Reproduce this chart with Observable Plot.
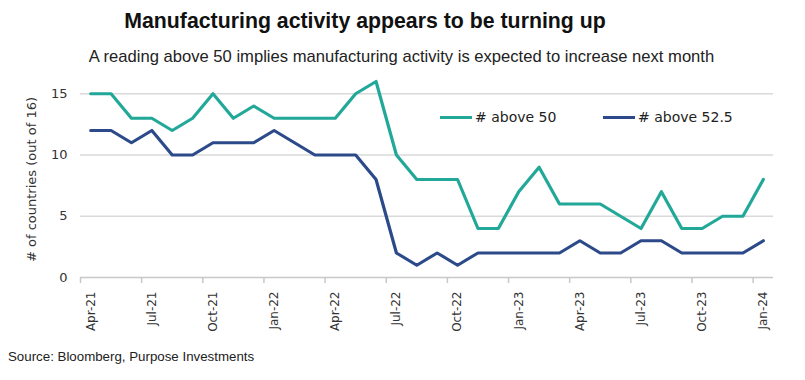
<!DOCTYPE html>
<html><head><meta charset="utf-8">
<script src="https://cdn.jsdelivr.net/npm/d3@7"></script>
<script src="https://cdn.jsdelivr.net/npm/@observablehq/plot@0.6"></script>
<style>
body{margin:0;background:#fff;width:805px;height:380px;position:relative;overflow:hidden;font-family:"DejaVu Sans",sans-serif;color:#222}
#title{position:absolute;left:0;width:730px;top:9px;text-align:center;font-family:"Liberation Sans",Arial,sans-serif;font-weight:bold;font-size:21.3px;color:#111;white-space:nowrap}
#subtitle{position:absolute;left:0;width:803px;top:47px;text-align:center;font-family:"Liberation Sans",Arial,sans-serif;font-size:16.6px;color:#222;white-space:nowrap}
#chart{position:absolute;left:0;top:72px}
#source{position:absolute;left:8px;top:349px;font-family:"Liberation Sans",Arial,sans-serif;font-size:13.3px;color:#222;white-space:nowrap}
.leg{position:absolute;top:109px;font-size:14px;color:#222;white-space:nowrap;display:flex;align-items:center}
.leg span.sw{display:inline-block;width:32px;height:3px;margin-right:3px}
</style>
</head><body>
<div id="title">Manufacturing activity appears to be turning up</div>
<div id="subtitle">A reading above 50 implies manufacturing activity is expected to increase next month</div>
<div id="chart"></div>
<div class="leg" style="left:440px"><span class="sw" style="background:#22A898"></span># above 50</div>
<div class="leg" style="left:603px"><span class="sw" style="background:#2C4A8A"></span># above 52.5</div>
<div id="source">Source: Bloomberg, Purpose Investments</div>
<script>
const months = ["Apr-21","May-21","Jun-21","Jul-21","Aug-21","Sep-21","Oct-21","Nov-21","Dec-21",
  "Jan-22","Feb-22","Mar-22","Apr-22","May-22","Jun-22","Jul-22","Aug-22","Sep-22","Oct-22","Nov-22","Dec-22",
  "Jan-23","Feb-23","Mar-23","Apr-23","May-23","Jun-23","Jul-23","Aug-23","Sep-23","Oct-23","Nov-23","Dec-23",
  "Jan-24"];
const above50 = [15,15,13,13,12,13,15,13,14,13,13,13,13,15,16,10,8,8,8,4,4,7,9,6,6,6,5,4,7,4,4,5,5,8];
const above525 = [12,12,11,12,10,10,11,11,11,12,11,10,10,10,8,2,1,2,1,2,2,2,2,2,3,2,2,3,3,2,2,2,2,3];
const yTicks = [0,5,10,15];
const labelIdx = months.map((m,i)=>i).filter(i=>i%3===0);
const boundaryIdx = labelIdx.map(i=>i-0.5);
const teal = "#22A898", navy = "#2C4A8A";

const chart = Plot.plot({
  width: 805, height: 275,
  marginLeft: 80, marginRight: 32, marginTop: 9, marginBottom: 70,
  style: {fontFamily: "DejaVu Sans", fontSize: "12px", color: "#333", background: "transparent"},
  x: {domain: [-0.5, months.length - 0.5]},
  y: {domain: [0, 16]},
  marks: [
    Plot.ruleY(yTicks.filter(d => d > 0), {stroke: "#d9d9d9", strokeWidth: 1.5}),
    Plot.ruleY([0], {stroke: "#c8c8c8", strokeWidth: 1.5}),
    Plot.axisY({ticks: yTicks, tickSize: 0, tickPadding: 13, label: "# of countries (out of 16)", labelAnchor: "center", labelArrow: "none", labelOffset: 54, fontSize: 13}),
    Plot.axisX({ticks: boundaryIdx, tickSize: 6, tickFormat: () => "", stroke: "#c8c8c8", strokeWidth: 1.5, label: null}),
    Plot.axisX({ticks: labelIdx, tickSize: 0, tickPadding: 14, tickRotate: -90, tickFormat: i => months[i], label: null}),
    Plot.line(above50, {x: (d, i) => i, y: d => d, stroke: teal, strokeWidth: 3.2}),
    Plot.line(above525, {x: (d, i) => i, y: d => d, stroke: navy, strokeWidth: 3.2})
  ]
});
document.getElementById("chart").appendChild(chart);
</script>
</body></html>
